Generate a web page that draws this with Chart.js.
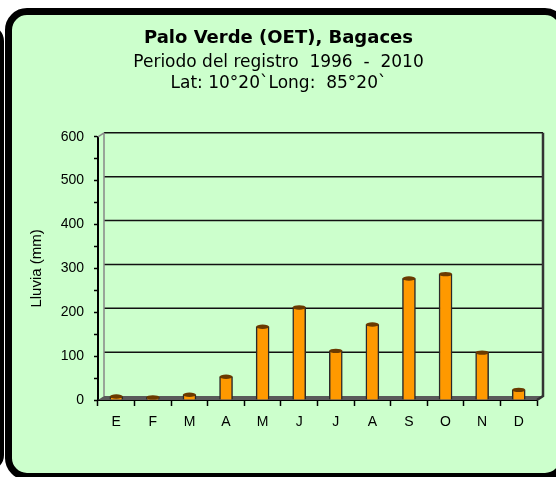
<!DOCTYPE html>
<html lang="es">
<head>
    <meta charset="UTF-8">
    <title>Palo Verde (OET), Bagaces</title>
    <script src="https://cdn.jsdelivr.net/npm/chart.js"></script>
    <style>
        body {
            margin: 0;
            background: #fff;
            overflow: hidden;
        }
        .wrap {
            position: relative;
            width: 556px;
            height: 477px;
            overflow: hidden;
        }
        .prev-box {
            position: absolute;
            left: -30px;
            top: 25px;
            width: 34px;
            height: 446px;
            box-sizing: border-box;
            border: 4px solid #000;
            border-radius: 16px;
        }
        .box {
            position: absolute;
            left: 5px;
            top: 8px;
            width: 562px;
            height: 472px;
            box-sizing: border-box;
            border: 7px solid #000;
            border-radius: 22px;
            background: #ccffcc;
        }
        canvas {
            position: absolute;
            left: 0;
            top: 0;
        }
    </style>
</head>
<body>
<div class="wrap">
    <div class="prev-box"></div>
    <div class="box"></div>
    <canvas id="myChart" width="556" height="477"></canvas>
</div>
<script>
    // data
    const months = ['E', 'F', 'M', 'A', 'M', 'J', 'J', 'A', 'S', 'O', 'N', 'D'];
    const rain = [8, 6, 12, 53, 167, 211, 112, 172, 277, 287, 108, 23];
    const yTicks = [0, 100, 200, 300, 400, 500, 600];

    const DX = 6, DY = 4; // depth of the fake 3d box
    const titleFont = '"DejaVu Sans", Verdana, sans-serif';
    const axisFont = '"Liberation Sans", Arial, sans-serif';

    const wall3d = {
        id: 'wall3d',
        beforeDatasetsDraw(chart) {
            const { ctx, chartArea: a, scales: { y } } = chart;
            ctx.save();
            // floor
            ctx.fillStyle = '#5a5a5a';
            ctx.beginPath();
            ctx.moveTo(a.left, a.bottom);
            ctx.lineTo(a.right, a.bottom);
            ctx.lineTo(a.right + DX, a.bottom - DY);
            ctx.lineTo(a.left + DX, a.bottom - DY);
            ctx.closePath();
            ctx.fill();
            // back wall grid lines
            ctx.strokeStyle = '#111';
            ctx.lineWidth = 1.5;
            yTicks.forEach(v => {
                if (v === 0) return;
                const py = y.getPixelForValue(v) - DY;
                ctx.beginPath();
                ctx.moveTo(a.left + DX, py);
                ctx.lineTo(a.right + DX, py);
                ctx.stroke();
            });
            // left wall edge
            ctx.strokeStyle = '#888';
            ctx.lineWidth = 1.5;
            ctx.beginPath();
            ctx.moveTo(a.left + DX, a.top - DY);
            ctx.lineTo(a.left + DX, a.bottom - DY);
            ctx.moveTo(a.left, a.top);
            ctx.lineTo(a.left + DX, a.top - DY);
            ctx.stroke();
            // right wall edge
            ctx.strokeStyle = '#333';
            ctx.lineWidth = 2.5;
            ctx.beginPath();
            ctx.moveTo(a.right + DX, a.top - DY);
            ctx.lineTo(a.right + DX, a.bottom - DY);
            ctx.lineTo(a.right, a.bottom);
            ctx.stroke();
            ctx.restore();
        },
        afterDatasetsDraw(chart) {
            const { ctx } = chart;
            ctx.save();
            chart.getDatasetMeta(0).data.forEach(bar => {
                const w = bar.width / 2;
                ctx.fillStyle = '#6b3a00';
                ctx.beginPath();
                ctx.ellipse(bar.x, bar.y, w, 2.2, 0, 0, Math.PI * 2);
                ctx.fill();
            });
            ctx.restore();
        }
    };

    const ctx = document.getElementById('myChart').getContext('2d');
    new Chart(ctx, {
        type: 'bar',
        data: {
            labels: months,
            datasets: [{
                label: 'Lluvia',
                data: rain,
                backgroundColor: '#ff9900',
                borderColor: '#2a2a2a',
                borderWidth: 1.5,
                barThickness: 13
            }]
        },
        options: {
            responsive: false,
            animation: false,
            devicePixelRatio: 1,
            layout: {
                padding: { left: 20, right: 19, top: 22, bottom: 30 }
            },
            plugins: {
                legend: { display: false },
                tooltip: { enabled: false },
                title: {
                    display: true,
                    text: 'Palo Verde (OET), Bagaces',
                    color: '#000',
                    font: { family: titleFont, size: 18, weight: 'bold', lineHeight: 1.2 },
                    padding: { top: 6, bottom: 2 }
                },
                subtitle: {
                    display: true,
                    text: ['Periodo del registro  1996  -  2010', 'Lat: 10°20`Long:  85°20`'],
                    color: '#000',
                    font: { family: titleFont, size: 17, lineHeight: 1.24 },
                    padding: { top: 0, bottom: 43 }
                }
            },
            scales: {
                x: {
                    afterFit(scale) { scale.height = 47; },
                    border: { color: '#000', width: 2 },
                    grid: {
                        drawOnChartArea: false,
                        tickLength: 6,
                        tickColor: '#000',
                        tickWidth: 1.5
                    },
                    ticks: {
                        color: '#000',
                        padding: 8,
                        font: { family: axisFont, size: 14 }
                    }
                },
                y: {
                    min: 0,
                    max: 600,
                    afterFit(scale) { scale.width = 78; },
                    border: { color: '#000', width: 2 },
                    grid: {
                        drawOnChartArea: false,
                        tickLength: 4,
                        tickColor: '#000',
                        tickWidth: 1.5
                    },
                    ticks: {
                        stepSize: 50,
                        color: '#000',
                        padding: 10,
                        font: { family: axisFont, size: 14 },
                        callback: v => (yTicks.includes(v) ? v : '')
                    },
                    title: {
                        display: true,
                        text: 'Lluvia (mm)',
                        color: '#000',
                        font: { family: axisFont, size: 15 },
                        padding: { top: 8, bottom: 0 }
                    }
                }
            }
        },
        plugins: [wall3d]
    });
</script>
</body>
</html>
